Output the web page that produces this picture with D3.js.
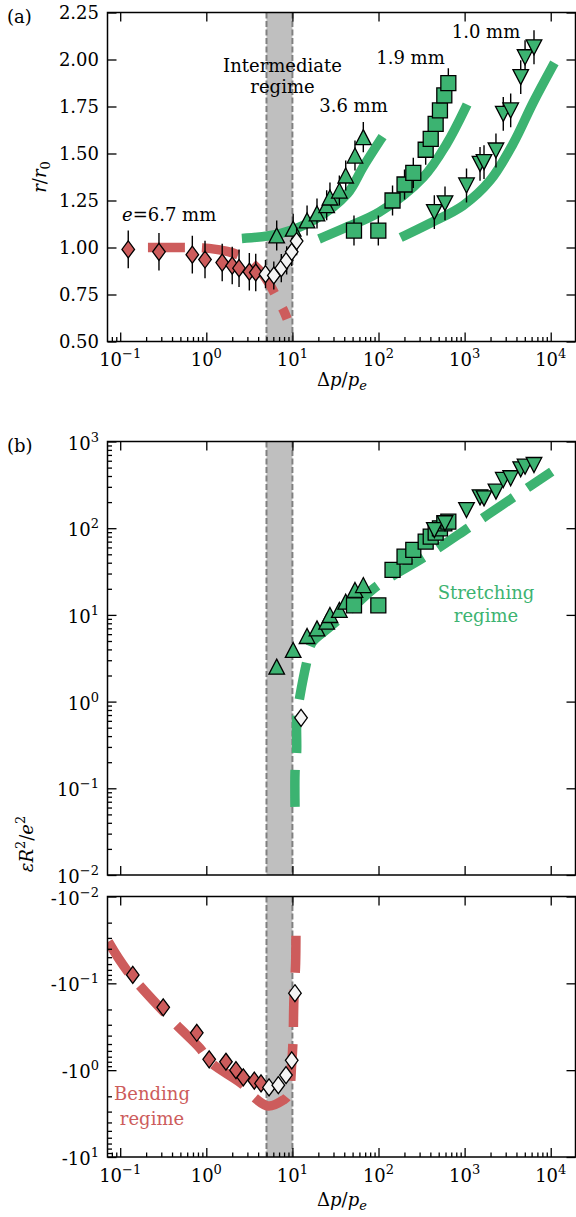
<!DOCTYPE html>
<html>
<head>
<meta charset="utf-8">
<script src="https://cdn.jsdelivr.net/npm/d3@7"></script>
<style>
  body { margin: 0; background: #fff; }
  svg text { font-family: "DejaVu Serif", serif; font-size: 18px; fill: #000; }
</style>
</head>
<body>
<svg id="chart" width="576" height="1217"></svg>
<script>
// ---- axis limits / ticks ----
const xLim = [0.0712, 19400];
const rLim = [0.5, 2.25];
const epsPosLim = [0.01, 1000];
const epsNegLim = [0.01, 10];   // magnitude of the negative values
const band = [5, 10];           // intermediate regime
const rTicks = [0.5, 0.75, 1.0, 1.25, 1.5, 1.75, 2.0, 2.25];

// ---- panel (a): r/r0 ----
const xRedA = [0.124, 0.282, 0.688, 0.966, 1.53, 2.0, 2.4, 3.16, 3.75];
const rRed = [0.99, 0.977, 0.962, 0.936, 0.92, 0.904, 0.89, 0.871, 0.867];
const xWhiteA = [4.87, 6.08, 7.43, 8.58, 9.82, 11.2];
const rWhite = [0.858, 0.851, 0.89, 0.932, 0.977, 1.034];
const xTri = [6.57, 10.2, 14.8, 19.3, 25.0, 27.3, 35.1, 41.6, 53.3, 66.6];
const rTri = [1.064, 1.10, 1.144, 1.181, 1.225, 1.266, 1.303, 1.383, 1.489, 1.587];
const xSq = [51.9, 99.5, 145.5, 200.6, 253.5, 353, 404, 461, 517, 581, 647];
const rSq = [1.09, 1.09, 1.25, 1.335, 1.397, 1.52, 1.578, 1.658, 1.729, 1.809, 1.874];
const xInv = [445, 592, 1052, 1510, 1680, 2312, 2812, 3428, 4484, 5035, 6395];
const rInv = [1.188, 1.235, 1.33, 1.445, 1.454, 1.516, 1.711, 1.729, 1.906, 2.012, 2.065];

// fits in (a)
const fitRedAx = [0.21, 0.4, 0.6, 0.9, 1.3, 1.8, 2.35, 3.0, 3.6, 4.3, 5.0, 5.6, 6.2, 6.8, 7.4, 8.0, 8.7];
const fitRedAy = [1.0, 1.0, 1.0, 0.998, 0.99, 0.978, 0.96, 0.935, 0.905, 0.87, 0.83, 0.795, 0.757, 0.72, 0.69, 0.66, 0.62];
const fit36x = [2.94, 7.2, 17.5, 43.6, 66, 104];
const fit36y = [1.05, 1.074, 1.144, 1.286, 1.427, 1.569];
const fit19x = [22.9, 42.6, 102, 331, 620, 1011];
const fit19y = [1.055, 1.108, 1.188, 1.374, 1.552, 1.738];
const fit10x = [203, 396, 958, 1972, 3648, 6237, 10380];
const fit10y = [1.064, 1.129, 1.223, 1.356, 1.551, 1.77, 1.96];

// ---- panel (b): eps R^2 / e^2 ----
const xRedB = [0.14, 0.316, 0.775, 1.08, 1.69, 2.21, 2.69, 3.61, 4.32];
const epsRed = [-0.080, -0.189, -0.371, -0.75, -0.80, -1.0, -1.21, -1.32, -1.42];
const xWhiteB = [5.35, 6.86, 8.43, 9.82, 10.7, 12.6];
const epsWhite = [-1.58, -1.49, -1.14, -0.77, -0.13, 0.65];
const epsTri = [2.53, 3.94, 5.71, 7.0, 8.35, 9.98, 11.4, 14.2, 19.4, 22.1];
const epsSq = [12.9, 12.9, 33, 46.9, 56.1, 69.9, 79.8, 88.7, 99.7, 113.8, 118.8];
const epsInv = [95, 114, 162, 227, 221, 264, 360, 377, 478, 512, 536];

const fitStretchX = [10.72, 10.75, 11.2, 11.25, 12.2, 14.7, 16.8, 27, 50, 99.5, 347, 1155, 4030, 10270];
const fitStretchY = [0.061, 0.163, 0.264, 0.67, 1.14, 2.88, 4.74, 7.2, 12.2, 22.1, 46.9, 104, 241, 449];
const fitBendX = [0.0728, 0.119, 0.414, 0.845, 1.10, 2.69, 3.52, 5.25, 7.84, 8.96, 9.82, 10.2, 10.4, 10.9, 11.0];
const fitBendY = [-0.0332, -0.0703, -0.277, -0.561, -0.80, -1.48, -2.02, -2.59, -2.21, -1.94, -0.83, -0.41, -0.156, -0.058, -0.0223];

const green = '#3cb371', red = '#cd5c5c', white = '#f4f4f4';
const zip = (a, b) => a.map((v, i) => [v, b[i]]);

const svg = d3.select('#chart');
const X0 = 107.5, X1 = 575.5;
const pA = { top: 12.5, bottom: 341.5 };
const pB = { top: 441.5, bottom: 875 };
const pC = { top: 896.5, bottom: 1157 };

const xs = d3.scaleLog().domain(xLim).range([X0, X1]);
const yA = d3.scaleLinear().domain(rLim).range([pA.bottom, pA.top]);
const yB = d3.scaleLog().domain(epsPosLim).range([pB.bottom, pB.top]);
const yCm = d3.scaleLog().domain(epsNegLim).range([pC.top, pC.bottom]);
const yC = v => yCm(-v);

const shapes = {
  diamond: 'M0,-8.5L6.3,0L0,8.5L-6.3,0Z',
  tri: 'M0,-7.5L7.8,7.5L-7.8,7.5Z',
  inv: 'M0,7.5L7.8,-7.5L-7.8,-7.5Z',
  square: 'M-7.5,-7.5H7.5V7.5H-7.5Z'
};

function makePanel(p, id) {
  const g = svg.append('g');
  svg.append('clipPath').attr('id', id).append('rect')
    .attr('x', X0).attr('y', p.top).attr('width', X1 - X0).attr('height', p.bottom - p.top);
  const inner = g.append('g').attr('clip-path', `url(#${id})`);
  inner.append('rect')
    .attr('x', xs(band[0])).attr('width', xs(band[1]) - xs(band[0]))
    .attr('y', p.top).attr('height', p.bottom - p.top)
    .attr('fill', '#bfbfbf');
  band.forEach(b => {
    inner.append('line')
      .attr('x1', xs(b)).attr('x2', xs(b)).attr('y1', p.top).attr('y2', p.bottom)
      .attr('stroke', '#808080').attr('stroke-width', 2).attr('stroke-dasharray', '6,2.5');
  });
  return { g, inner };
}

function fitLine(sel, pts, yFn, color, dashed) {
  const line = d3.line().x(d => xs(d[0])).y(d => yFn(d[1])).curve(d3.curveCatmullRom.alpha(0.5));
  sel.append('path').attr('d', line(pts))
    .attr('fill', 'none').attr('stroke', color).attr('stroke-width', 9.5)
    .attr('stroke-linecap', dashed ? 'butt' : 'square')
    .attr('stroke-dasharray', dashed ? '37,17' : null);
}

function series(sel, pts, yFn, shape, fill, err) {
  if (err) {
    sel.append('g').selectAll('line').data(pts).join('line')
      .attr('x1', d => xs(d[0])).attr('x2', d => xs(d[0]))
      .attr('y1', d => yFn(d[1] - err)).attr('y2', d => yFn(d[1] + err))
      .attr('stroke', '#000').attr('stroke-width', 1.4);
  }
  sel.append('g').selectAll('path').data(pts).join('path')
    .attr('d', shapes[shape])
    .attr('transform', d => `translate(${xs(d[0])},${yFn(d[1])})`)
    .attr('fill', fill).attr('stroke', '#000').attr('stroke-width', 1.3);
}

const isPow10 = v => Math.abs(Math.log10(v) - Math.round(Math.log10(v))) < 1e-9;

function styleAxis(a) {
  a.select('.domain').remove();
  a.selectAll('.tick line').attr('stroke-width', 1.3);
}

function xTicks(g, yPos, top, withMinor) {
  const all = xs.ticks();
  const major = all.filter(isPow10);
  const minor = all.filter(v => !isPow10(v));
  const mk = () => (top ? d3.axisTop(xs) : d3.axisBottom(xs));
  g.append('g').attr('transform', `translate(0,${yPos})`)
    .call(mk().tickValues(major).tickSize(-9).tickFormat('')).call(styleAxis);
  if (withMinor) {
    g.append('g').attr('transform', `translate(0,${yPos})`)
      .call(mk().tickValues(minor).tickSize(-4.5).tickFormat('')).call(styleAxis);
  }
}

function yTicks(g, scale, major, minor) {
  g.append('g').attr('transform', `translate(${X0},0)`)
    .call(d3.axisLeft(scale).tickValues(major).tickSize(-9).tickFormat('')).call(styleAxis);
  if (minor) {
    g.append('g').attr('transform', `translate(${X0},0)`)
      .call(d3.axisLeft(scale).tickValues(minor).tickSize(-4.5).tickFormat('')).call(styleAxis);
  }
  g.append('g').attr('transform', `translate(${X1},0)`)
    .call(d3.axisRight(scale).tickValues(major).tickSize(-9).tickFormat('')).call(styleAxis);
}

function frame(g, p) {
  g.append('rect').attr('x', X0).attr('y', p.top).attr('width', X1 - X0).attr('height', p.bottom - p.top)
    .attr('fill', 'none').attr('stroke', '#000').attr('stroke-width', 1.5);
}

function powLabel(g, x, y, exp, anchor, prefix) {
  const t = g.append('text').attr('x', x).attr('y', y).attr('text-anchor', anchor);
  t.append('tspan').text((prefix || '') + '10');
  t.append('tspan').attr('dy', -8).attr('font-size', 13).text(exp < 0 ? '\u2212' + (-exp) : String(exp));
}

function xLabels(g, yBase) {
  xs.ticks().filter(isPow10).forEach(v => powLabel(g, xs(v), yBase, Math.round(Math.log10(v)), 'middle'));
}

function xTitle(g, y) {
  const t = g.append('text').attr('x', 342).attr('y', y).attr('text-anchor', 'middle');
  t.append('tspan').text('\u0394');
  t.append('tspan').attr('font-style', 'italic').text('p');
  t.append('tspan').text('/');
  t.append('tspan').attr('font-style', 'italic').text('p');
  t.append('tspan').attr('font-style', 'italic').attr('font-size', 13).attr('dy', 4).text('e');
}

// ================= panel (a) =================
{
  const { g, inner } = makePanel(pA, 'clipA');
  fitLine(inner, zip(fitRedAx, fitRedAy), yA, red, true);
  fitLine(inner, zip(fit36x, fit36y), yA, green, false);
  fitLine(inner, zip(fit19x, fit19y), yA, green, false);
  fitLine(inner, zip(fit10x, fit10y), yA, green, false);

  series(inner, zip(xRedA, rRed), yA, 'diamond', red, 0.1);
  series(inner, zip(xTri, rTri), yA, 'tri', green, 0.08);
  series(inner, zip(xSq, rSq), yA, 'square', green, 0.08);
  series(inner, zip(xInv, rInv), yA, 'inv', green, 0.09);
  series(inner, zip(xWhiteA, rWhite), yA, 'diamond', white, 0.075);

  frame(g, pA);
  xTicks(g, pA.bottom, false, true);
  xTicks(g, pA.top, true, false);
  yTicks(g, yA, rTicks, null);
  xLabels(g, 366);
  rTicks.forEach(v => {
    g.append('text').attr('x', 99).attr('y', yA(v) + 6).attr('text-anchor', 'end').text(d3.format('.2f')(v));
  });
  xTitle(g, 386);

  const yl = g.append('text').attr('transform', 'translate(46,177) rotate(-90)').attr('text-anchor', 'middle');
  yl.append('tspan').attr('font-style', 'italic').text('r');
  yl.append('tspan').text('/');
  yl.append('tspan').attr('font-style', 'italic').text('r');
  yl.append('tspan').attr('font-size', 13).attr('dy', 4).text('0');

  g.append('text').attr('x', 7).attr('y', 23).text('(a)');
  g.append('text').attr('x', 282.5).attr('y', 72).attr('text-anchor', 'middle').text('Intermediate');
  g.append('text').attr('x', 282.5).attr('y', 93).attr('text-anchor', 'middle').text('regime');
  g.append('text').attr('x', 353.5).attr('y', 112).attr('text-anchor', 'middle').text('3.6 mm');
  g.append('text').attr('x', 410.5).attr('y', 64).attr('text-anchor', 'middle').text('1.9 mm');
  g.append('text').attr('x', 486).attr('y', 38).attr('text-anchor', 'middle').text('1.0 mm');
  const el = g.append('text').attr('x', 122).attr('y', 221);
  el.append('tspan').attr('font-style', 'italic').text('e');
  el.append('tspan').text('=6.7 mm');
}

// ================= panel (b), positive part =================
{
  const { g, inner } = makePanel(pB, 'clipB');
  fitLine(inner, zip(fitStretchX, fitStretchY), yB, green, true);

  series(inner, zip(xTri, epsTri), yB, 'tri', green, 0);
  series(inner, zip(xSq, epsSq), yB, 'square', green, 0);
  series(inner, zip(xInv, epsInv), yB, 'inv', green, 0);
  series(inner, zip(xWhiteB, epsWhite).filter(d => d[1] > 0), yB, 'diamond', white, 0);

  frame(g, pB);
  xTicks(g, pB.bottom, false, false);
  xTicks(g, pB.top, true, false);
  const all = yB.ticks();
  yTicks(g, yB, all.filter(isPow10), all.filter(v => !isPow10(v)));
  all.filter(isPow10).forEach(v => powLabel(g, 99, yB(v) + 8, Math.round(Math.log10(v)), 'end'));

  g.append('text').attr('x', 7).attr('y', 452).text('(b)');
  g.append('text').attr('x', 486).attr('y', 599).attr('text-anchor', 'middle').style('fill', green).text('Stretching');
  g.append('text').attr('x', 486).attr('y', 622).attr('text-anchor', 'middle').style('fill', green).text('regime');

  const yl = g.append('text').attr('transform', 'translate(33,844) rotate(-90)').attr('text-anchor', 'middle');
  yl.append('tspan').attr('font-style', 'italic').text('\u03b5');
  yl.append('tspan').attr('font-style', 'italic').text('R');
  yl.append('tspan').attr('font-size', 13).attr('dy', -8).text('2');
  yl.append('tspan').attr('dy', 8).text('/');
  yl.append('tspan').attr('font-style', 'italic').text('e');
  yl.append('tspan').attr('font-size', 13).attr('dy', -8).text('2');
}

// ================= panel (b), negative part =================
{
  const { g, inner } = makePanel(pC, 'clipC');
  fitLine(inner, zip(fitBendX, fitBendY), yC, red, true);

  series(inner, zip(xRedB, epsRed), yC, 'diamond', red, 0);
  series(inner, zip(xWhiteB, epsWhite).filter(d => d[1] < 0), yC, 'diamond', white, 0);

  frame(g, pC);
  xTicks(g, pC.bottom, false, true);
  xTicks(g, pC.top, true, false);
  const all = yCm.ticks();
  yTicks(g, yCm, all.filter(isPow10), all.filter(v => !isPow10(v)));
  all.filter(isPow10).forEach(v => powLabel(g, 99, yCm(v) + 8, Math.round(Math.log10(v)), 'end', '-'));
  xLabels(g, 1182);
  xTitle(g, 1206);

  g.append('text').attr('x', 152).attr('y', 1100).attr('text-anchor', 'middle').style('fill', red).text('Bending');
  g.append('text').attr('x', 152).attr('y', 1125).attr('text-anchor', 'middle').style('fill', red).text('regime');
}
</script>
</body>
</html>
